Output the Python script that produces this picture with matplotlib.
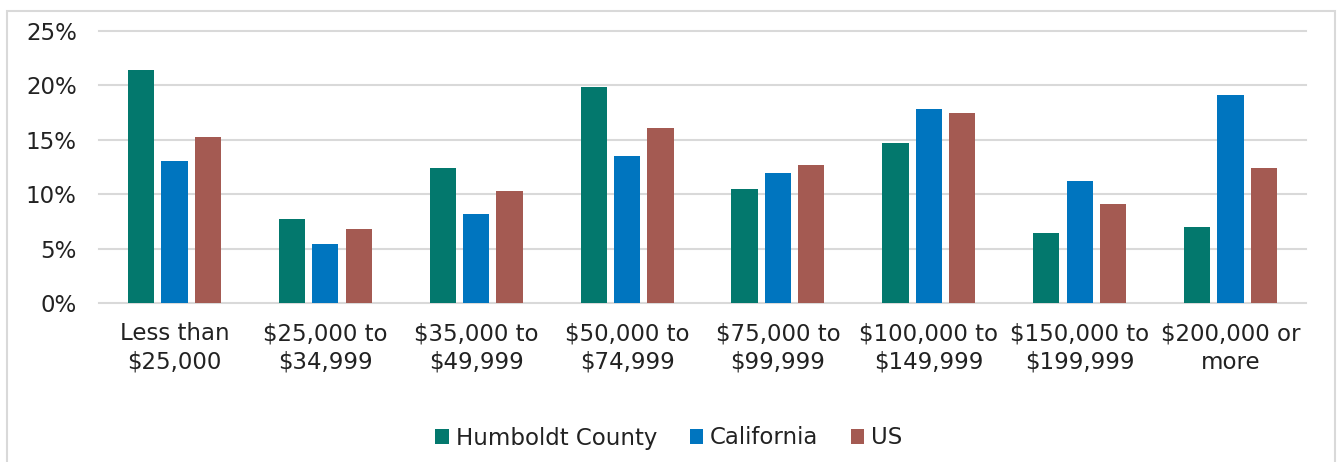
import numpy as np
import matplotlib.pyplot as plt
from matplotlib.patches import Rectangle

# income brackets and share of households
categories = ['Less than\n$25,000', '$25,000 to\n$34,999', '$35,000 to\n$49,999',
              '$50,000 to\n$74,999', '$75,000 to\n$99,999', '$100,000 to\n$149,999',
              '$150,000 to\n$199,999', '$200,000 or\nmore']
humboldt = [21.4, 7.7, 12.4, 19.8, 10.5, 14.7, 6.4, 7.0]
california = [13.0, 5.4, 8.2, 13.5, 11.9, 17.8, 11.2, 19.1]
us = [15.2, 6.8, 10.3, 16.1, 12.7, 17.4, 9.1, 12.4]

series = [('Humboldt County', humboldt, '#03786d'),
          ('California', california, '#0075bf'),
          ('US', us, '#a45a52')]

plt.rcParams['font.family'] = ['DejaVu Sans']
text_col = '#222222'

fig = plt.figure(figsize=(13.38, 4.62), dpi=100)
ax = fig.add_axes([99/1338, 1 - 303/462, (1306 - 99)/1338, (303 - 30.7)/462])

# chart frame (light grey border, bottom edge falls outside the image)
fig.patches.append(Rectangle((7/1338, -0.1), (1335 - 7)/1338, 1.1 - 11/462,
                             transform=fig.transFigure, fill=False,
                             edgecolor='#d9d9d9', linewidth=1.5, zorder=0))

x = np.arange(len(categories))
w = 0.174
off = 0.2215
for i, (name, vals, col) in enumerate(series):
    ax.bar(x + (i - 1) * off, vals, width=w, color=col, label=name, zorder=3)

ax.set_xlim(-0.5, len(categories) - 0.5)
ax.set_ylim(0, 25)
ax.set_yticks(np.arange(0, 26, 5))
ax.set_yticklabels([f'{v}%' for v in range(0, 26, 5)])
ax.set_xticks(x)
ax.set_xticklabels(categories, linespacing=1.3)

ax.grid(axis='y', color='#d9d9d9', linewidth=1.5, zorder=0)
for g in ax.yaxis.get_gridlines():
    g.set_clip_on(False)
for s in ax.spines.values():
    s.set_visible(False)
ax.tick_params(axis='both', length=0, labelsize=16.5, colors=text_col)
ax.tick_params(axis='y', pad=16)
ax.tick_params(axis='x', pad=14)

fig.legend(loc='center', bbox_to_anchor=(0.5, 1 - 438/462), ncol=3, frameon=False,
           fontsize=16.5, handlelength=0.6, handleheight=0.6, handletextpad=0.3,
           columnspacing=1.4, labelcolor=text_col)

fig.savefig('out.png', dpi=100)
